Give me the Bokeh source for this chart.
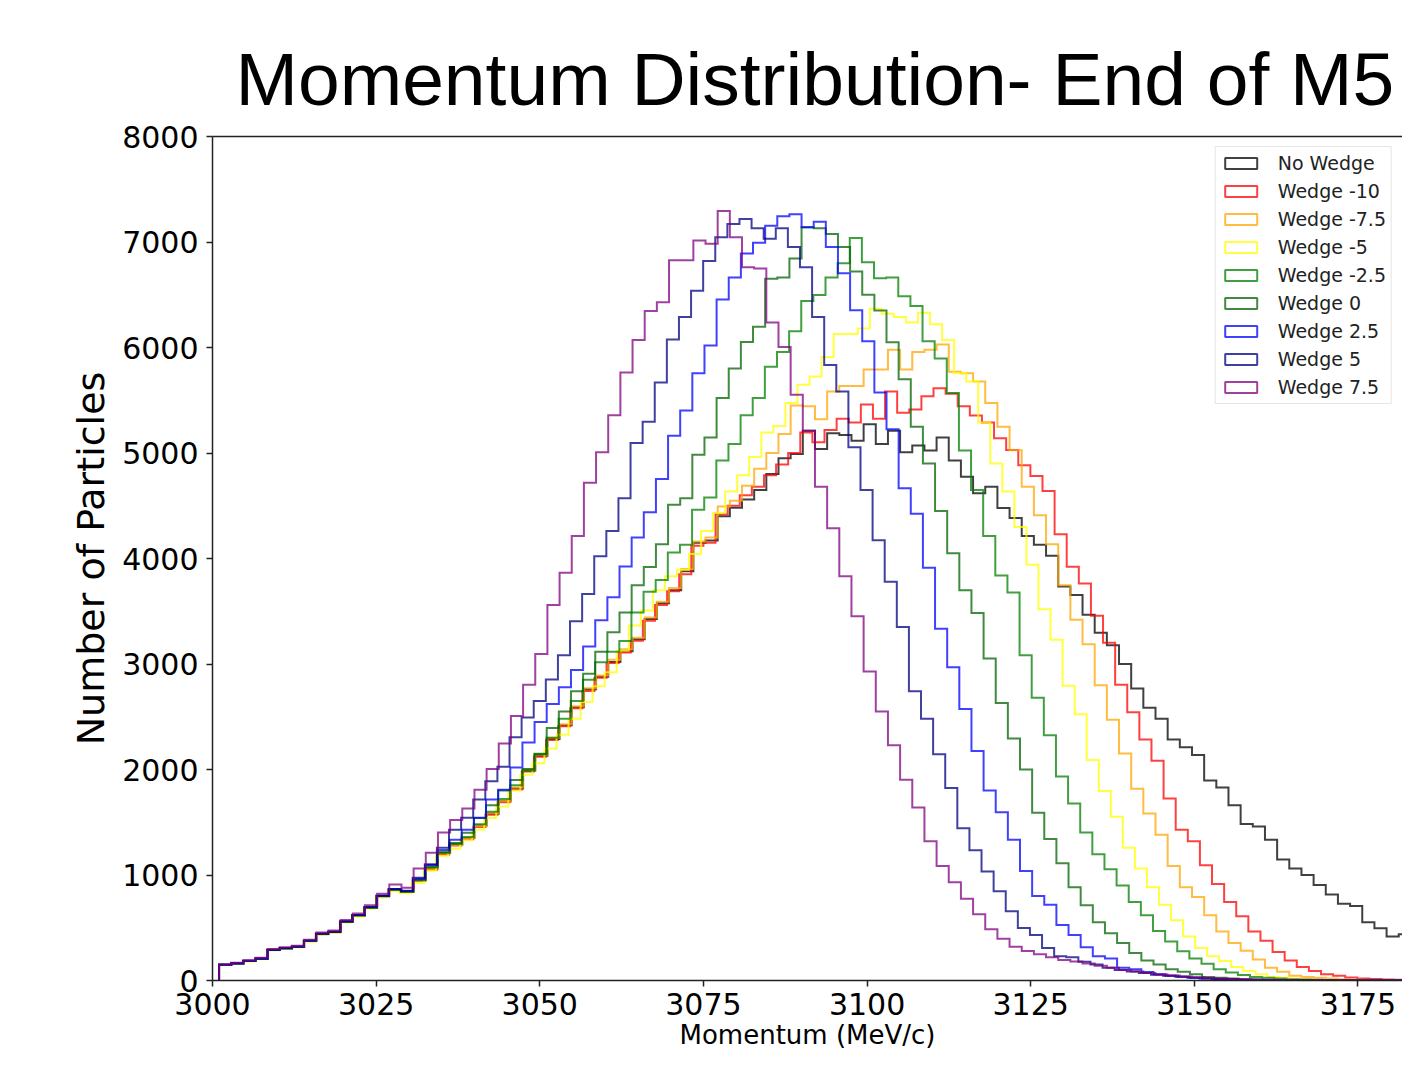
import numpy as np
from bokeh.plotting import figure
from bokeh.models import Range1d, LinearAxis, FixedTicker, Legend, LegendItem, Title
from bokeh.embed import file_html
from bokeh.resources import INLINE

TITLE = "Momentum Distribution- End of M5"
X_LABEL = "Momentum (MeV/c)"
Y_LABEL = "Number of Particles"
x_ticks = [3000, 3025, 3050, 3075, 3100, 3125, 3150, 3175]
y_ticks = [0, 1000, 2000, 3000, 4000, 5000, 6000, 7000, 8000]

series_names = ["No Wedge", "Wedge -10", "Wedge -7.5", "Wedge -5", "Wedge -2.5",
                "Wedge 0", "Wedge 2.5", "Wedge 5", "Wedge 7.5"]
series_colors = ["black", "red", "orange", "yellow", "green",
                 "darkgreen", "blue", "navy", "purple"]

# histogram binning (MeV/c): first edge and per-series bin width (100 bins each)
bin_start = 3001.0
bin_widths = [1.858, 1.850, 1.858, 1.841, 1.853, 1.854, 1.854, 1.849, 1.858]

no_wedge = [149, 160, 185, 205, 290, 305, 318, 375, 440, 460,
            556, 617, 690, 800, 860, 841, 950, 1065, 1210, 1290,
            1350, 1470, 1580, 1700, 1820, 1990, 2130, 2290, 2420, 2590,
            2760, 2880, 3020, 3120, 3234, 3427, 3576, 3700, 3880, 4150,
            4170, 4400, 4480, 4560, 4650, 4800, 4950, 4990, 5210, 5039,
            5188, 5170, 5117, 5272, 5085, 5210, 5008, 5070, 5023, 5148,
            4930, 4774, 4619, 4681, 4479, 4385, 4214, 4130, 4027, 3735,
            3654, 3467, 3296, 3178, 3000, 2767, 2586, 2480, 2284, 2212,
            2138, 1895, 1830, 1662, 1484, 1460, 1335, 1148, 1061, 999,
            906, 815, 728, 706, 551, 495, 417, 439, 430, 400]
wedge_m10 = [148, 159, 184, 204, 289, 303, 317, 374, 439, 457,
             555, 615, 689, 796, 857, 838, 948, 1050, 1195, 1280,
             1340, 1455, 1570, 1690, 1810, 1980, 2120, 2280, 2410, 2580,
             2745, 2870, 3010, 3110, 3220, 3410, 3560, 3690, 3850, 4120,
             4150, 4420, 4500, 4600, 4680, 4790, 4890, 5000, 5195, 5101,
             5219, 5325, 5288, 5459, 5325, 5583, 5381, 5412, 5537, 5614,
             5562, 5444, 5356, 5288, 5140, 5028, 4883, 4782, 4640, 4230,
             3922, 3762, 3457, 3202, 2803, 2543, 2285, 2082, 1724, 1429,
             1320, 1092, 915, 744, 610, 464, 376, 271, 190, 128,
             90, 59, 44, 28, 20, 14, 10, 6, 4, 3]
wedge_m7_5 = [148, 160, 185, 205, 290, 304, 318, 375, 440, 458,
              556, 616, 690, 798, 858, 840, 950, 1060, 1205, 1285,
              1350, 1465, 1585, 1700, 1830, 2000, 2140, 2300, 2430, 2600,
              2770, 2890, 3040, 3140, 3250, 3440, 3590, 3720, 3900, 4160,
              4199, 4494, 4547, 4690, 4850, 5000, 5180, 5450, 5443, 5319,
              5583, 5636, 5636, 5792, 5792, 5979, 5792, 5957, 5979, 6029,
              5771, 5755, 5677, 5474, 5249, 5027, 4681, 4410, 4136, 3747,
              3420, 3187, 2798, 2471, 2151, 1818, 1584, 1382, 1086, 884,
              791, 619, 465, 355, 283, 199, 121, 84, 44, 34,
              25, 18, 12, 8, 5, 3, 2, 1, 1, 0]
wedge_m5 = [146, 157, 181, 201, 284, 298, 312, 368, 432, 450,
            548, 606, 679, 786, 846, 826, 925, 1040, 1180, 1250,
            1330, 1430, 1540, 1650, 1800, 1950, 2060, 2200, 2330, 2480,
            2640, 2790, 2922, 3125, 3364, 3508, 3700, 3831, 3894, 4043,
            4261, 4432, 4634, 4790, 4961, 5194, 5257, 5474, 5646, 5724,
            5911, 6129, 6129, 6180, 6368, 6321, 6290, 6237, 6330, 6221,
            6072, 5755, 5677, 5288, 4900, 4634, 4299, 3940, 3520, 3230,
            2794, 2523, 2089, 1796, 1553, 1258, 1062, 884, 719, 572,
            417, 308, 230, 184, 128, 90, 59, 34, 25, 18,
            12, 8, 6, 4, 3, 2, 1, 1, 0, 0]
wedge_m2_5 = [149, 160, 185, 205, 289, 304, 318, 375, 440, 459,
              556, 616, 690, 798, 860, 841, 950, 1072, 1212, 1295,
              1360, 1480, 1600, 1720, 1850, 1990, 2150, 2300, 2480, 2650,
              2850, 3016, 3116, 3218, 3489, 3685, 3797, 4058, 4130, 4463,
              4578, 4930, 5086, 5357, 5521, 5817, 5957, 6154, 6441, 6497,
              6664, 6799, 7037, 6807, 6657, 6664, 6486, 6393, 6060, 5895,
              5568, 5023, 4650, 4214, 3840, 3677, 3084, 2680, 2324, 1933,
              1678, 1404, 1196, 1055, 900, 744, 619, 470, 370, 277,
              208, 159, 106, 75, 53, 34, 25, 18, 13, 9,
              6, 4, 3, 2, 1, 1, 0, 0, 0, 0]
wedge_0 = [149, 161, 186, 206, 290, 305, 319, 376, 441, 460,
           558, 618, 692, 800, 862, 843, 955, 1080, 1216, 1304,
           1400, 1540, 1660, 1800, 1900, 2005, 2145, 2393, 2549, 2742,
           2907, 3116, 3302, 3489, 3747, 3919, 4136, 4510, 4572, 4983,
           5148, 5521, 5802, 6051, 6197, 6651, 6664, 6844, 7140, 7131,
           7077, 6953, 6720, 6500, 6350, 6050, 5700, 5250, 4900, 4450,
           4050, 3700, 3483, 3053, 2630, 2295, 2000, 1590, 1341, 1111,
           884, 713, 551, 448, 355, 261, 190, 152, 106, 84,
           59, 34, 25, 18, 13, 9, 6, 4, 3, 2,
           1, 1, 0, 0, 0, 0, 0, 0, 0, 0]
wedge_2_5 = [150, 162, 187, 207, 291, 306, 320, 377, 443, 461,
             560, 620, 694, 802, 864, 846, 965, 1095, 1238, 1335,
             1429, 1543, 1716, 1808, 2020, 2256, 2450, 2620, 2780, 2944,
             3165, 3414, 3632, 3924, 4199, 4438, 4753, 5163, 5403, 5755,
             6020, 6455, 6664, 6891, 6993, 7155, 7243, 7264, 7140, 7192,
             6953, 6704, 6352, 6060, 5574, 5226, 4666, 4423, 3912, 3333,
             2969, 2574, 2176, 1802, 1594, 1335, 1039, 800, 719, 526,
             432, 315, 230, 208, 121, 106, 80, 60, 45, 35,
             25, 18, 12, 9, 6, 4, 3, 2, 1, 1,
             0, 0, 0, 0, 0, 0, 0, 0, 0, 0]
wedge_5 = [150, 163, 188, 208, 292, 308, 322, 378, 445, 463,
           562, 622, 697, 805, 868, 850, 975, 1101, 1258, 1429,
           1543, 1716, 1889, 2026, 2306, 2493, 2650, 2854, 3084, 3405,
           3663, 4021, 4261, 4572, 5095, 5297, 5668, 6076, 6290, 6539,
           6819, 7046, 7171, 7218, 7131, 7031, 7131, 6953, 6760, 6290,
           5833, 5583, 5054, 4650, 4174, 3779, 3350, 2742, 2481, 2145,
           1824, 1444, 1235, 1034, 847, 656, 498, 432, 308, 230,
           221, 177, 152, 121, 100, 85, 70, 55, 45, 35,
           27, 20, 15, 11, 8, 6, 4, 3, 2, 2,
           1, 1, 0, 0, 0, 0, 0, 0, 0, 0]
wedge_7_5 = [152, 168, 193, 215, 299, 314, 330, 386, 454, 473,
             573, 635, 713, 822, 909, 878, 1061, 1211, 1404, 1522,
             1631, 1808, 2004, 2247, 2508, 2804, 3094, 3560, 3866, 4214,
             4718, 5008, 5357, 5764, 6072, 6346, 6430, 6828, 6828, 7015,
             6984, 7295, 7046, 6760, 6750, 6237, 6004, 5553, 5210, 4681,
             4286, 3831, 3452, 2929, 2549, 2229, 1902, 1640, 1319, 1086,
             931, 775, 628, 486, 395, 320, 280, 250, 220, 195,
             180, 160, 140, 120, 100, 85, 70, 58, 47, 38,
             30, 24, 18, 14, 10, 8, 6, 4, 3, 2,
             2, 1, 1, 0, 0, 0, 0, 0, 0, 0]

series_counts = [no_wedge, wedge_m10, wedge_m7_5, wedge_m5, wedge_m2_5,
                 wedge_0, wedge_2_5, wedge_5, wedge_7_5]


def step_outline(counts, start, width):
    c = np.asarray(counts, dtype=float)
    edges = start + width * np.arange(len(c) + 1)
    xs = np.repeat(edges, 2)
    ys = np.concatenate([[0.0], np.repeat(c, 2), [0.0]])
    return xs, ys


p = figure(width=1402, height=1052, title=None,
           x_range=Range1d(3000, 3181.8), y_range=Range1d(0, 8000),
           output_backend="svg", toolbar_location=None,
           min_border_left=212, min_border_right=0,
           min_border_top=136, min_border_bottom=0)
p.outline_line_color = None
p.grid.visible = False
p.background_fill_color = "white"
p.border_fill_color = "white"

AX_COL = "#222222"
for ax in (p.xaxis[0], p.yaxis[0]):
    ax.axis_line_color = AX_COL
    ax.axis_line_width = 1.5
    ax.major_tick_line_color = AX_COL
    ax.major_tick_line_width = 1.5
    ax.major_tick_out = 6
    ax.major_tick_in = 0
    ax.minor_tick_line_color = None
    ax.major_label_text_font = "DejaVu Sans"
    ax.major_label_text_font_size = "30px"
    ax.major_label_text_color = "black"
    ax.axis_label_text_font = "DejaVu Sans"
    ax.axis_label_text_font_style = "normal"
    ax.axis_label_text_color = "black"

p.xaxis.ticker = FixedTicker(ticks=x_ticks)
p.yaxis.ticker = FixedTicker(ticks=y_ticks)
p.xaxis.major_label_standoff = 6
p.yaxis.major_label_standoff = 8
p.yaxis.axis_label = Y_LABEL
p.yaxis.axis_label_text_font_size = "38px"
p.yaxis.axis_label_standoff = 6
p.xaxis.axis_label = X_LABEL
p.xaxis.axis_label_text_font_size = "26px"
p.xaxis.axis_label_standoff = 2

top_axis = LinearAxis(ticker=FixedTicker(ticks=[]), axis_line_color=AX_COL,
                      axis_line_width=1.5, major_tick_line_color=None,
                      minor_tick_line_color=None, major_label_text_font_size="0px")
p.add_layout(top_axis, "above")
p.add_layout(Title(text=TITLE, align="left", offset=23, standoff=31,
                   text_font="Liberation Sans", text_font_size="75px",
                   text_font_style="normal", text_color="black"), "above")

items = []
for name, color, counts, width in zip(series_names, series_colors, series_counts, bin_widths):
    xs, ys = step_outline(counts, bin_start, width)
    p.line(xs, ys, line_color=color, line_alpha=0.75, line_width=2, line_join="miter")
    proxy = p.quad(left=[np.nan], right=[np.nan], top=[np.nan], bottom=[np.nan],
                   fill_alpha=0, line_color=color, line_alpha=0.75, line_width=2)
    items.append(LegendItem(label=name, renderers=[proxy]))

legend = Legend(items=items, location="top_right", margin=10,
                label_text_font="DejaVu Sans", label_text_font_size="19px",
                label_text_color="#222222",
                glyph_width=40, glyph_height=14, label_standoff=17,
                label_height=22, spacing=6, padding=5,
                border_line_color="#cccccc", border_line_width=1.5,
                background_fill_color="white", background_fill_alpha=0.8)
p.add_layout(legend)

open("out.html", "w").write(file_html(p, INLINE))
